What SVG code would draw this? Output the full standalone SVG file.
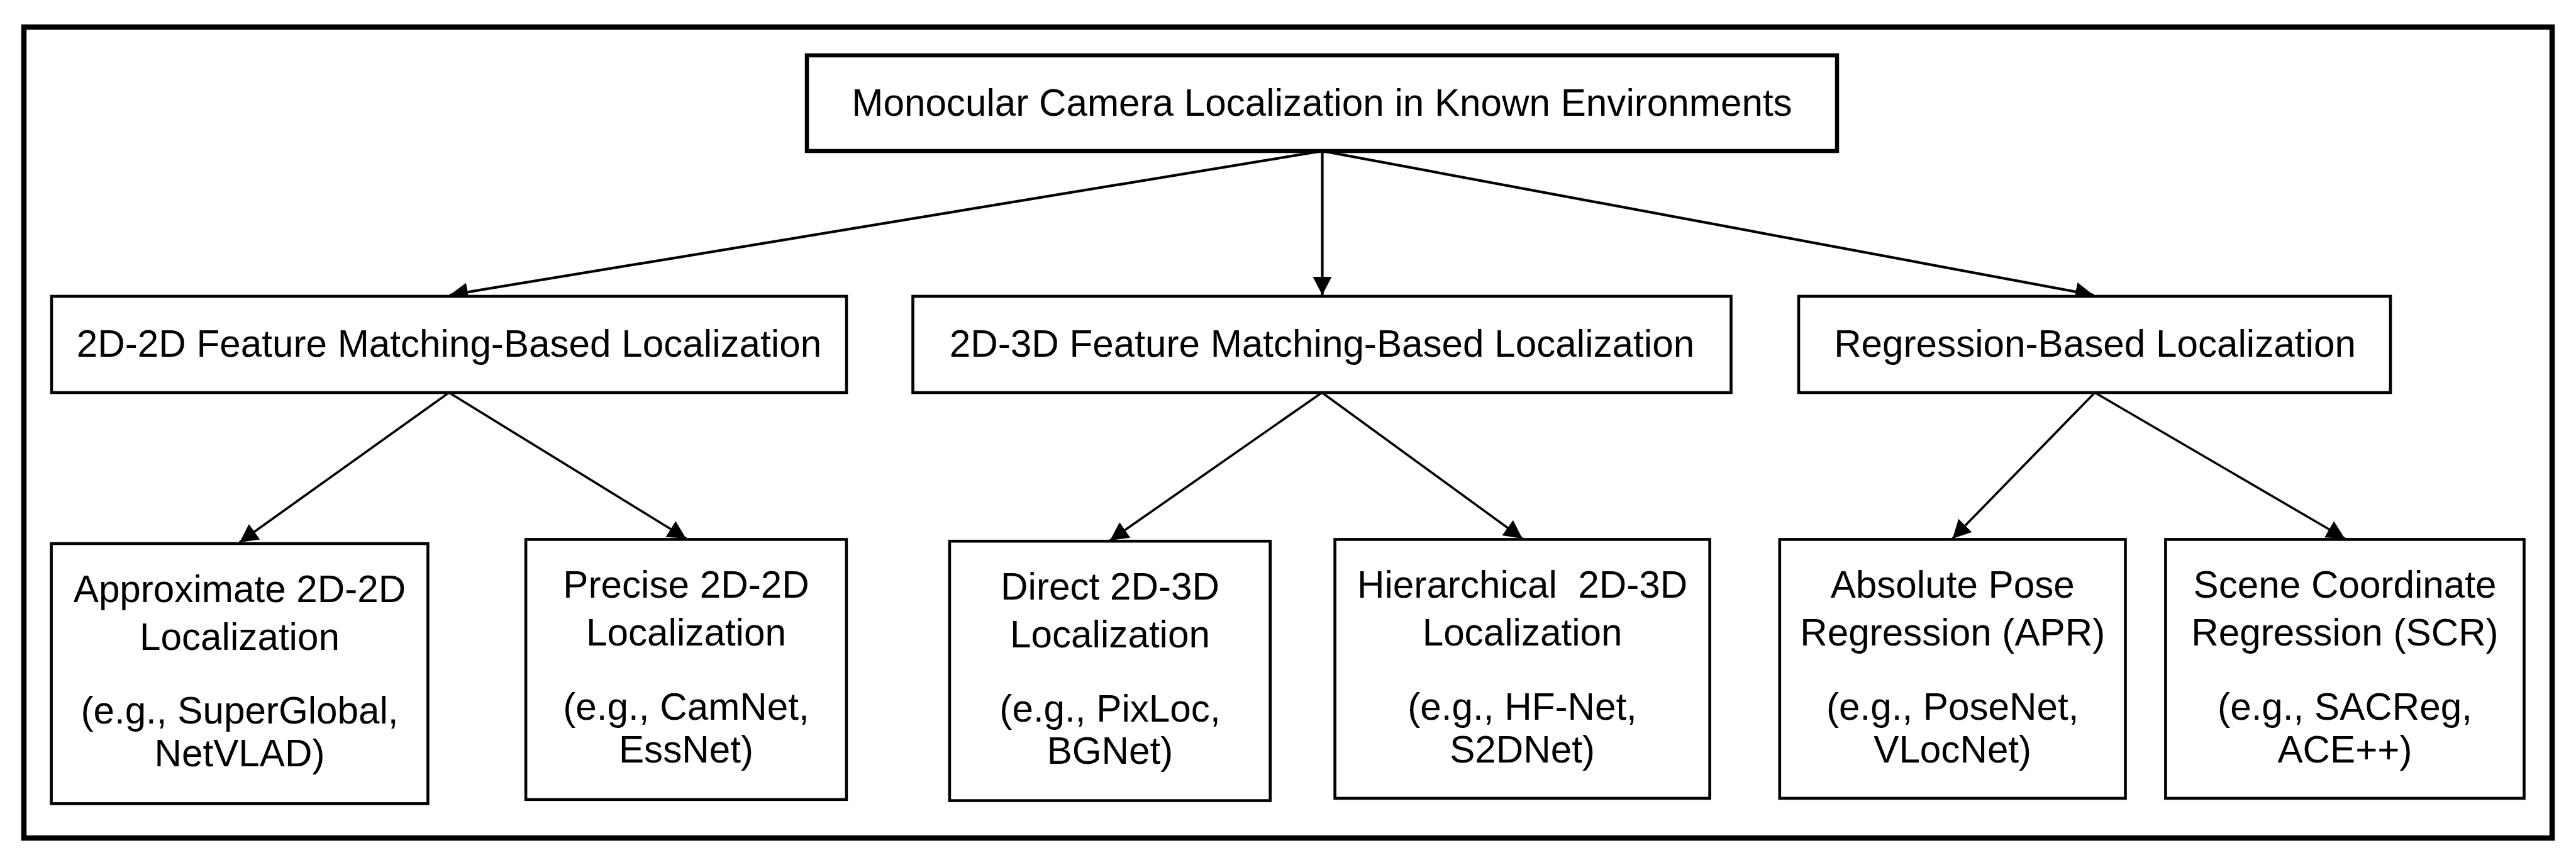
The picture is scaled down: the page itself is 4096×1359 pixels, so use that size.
<svg xmlns="http://www.w3.org/2000/svg" width="4096" height="1359" viewBox="0 0 4096 1359">
<style>
.frame{fill:none;stroke:#000;stroke-width:8.5}
.box{fill:#fff;stroke:#000;stroke-width:4.6}
.root{fill:#fff;stroke:#000;stroke-width:6.5}
text{font-family:"Liberation Sans",Arial,sans-serif;font-size:60.2px;fill:#000;text-anchor:middle}
.c1{fill:none;stroke:#000;stroke-width:4.2}
.c2{fill:none;stroke:#000;stroke-width:3.6}
</style>
<defs>
<marker id="ah" markerUnits="userSpaceOnUse" markerWidth="30" markerHeight="31" refX="29" refY="15" orient="auto">
<path d="M0,0 L29,15 L0,30 z" fill="#000"/>
</marker>
</defs>
<rect class="frame" x="38" y="43" width="4020" height="1289"/>
<g id="connectors">
<line class="c1" x1="2102.5" y1="240" x2="715" y2="469" marker-end="url(#ah)"/>
<line class="c1" x1="2102.5" y1="240" x2="2102.5" y2="469" marker-end="url(#ah)"/>
<line class="c1" x1="2102.5" y1="240" x2="3329" y2="469" marker-end="url(#ah)"/>
<line class="c2" x1="714" y1="624" x2="381" y2="862" marker-end="url(#ah)"/>
<line class="c2" x1="714" y1="624" x2="1091" y2="856" marker-end="url(#ah)"/>
<line class="c2" x1="2102" y1="624" x2="1765" y2="859" marker-end="url(#ah)"/>
<line class="c2" x1="2102" y1="624" x2="2420.6" y2="856" marker-end="url(#ah)"/>
<line class="c2" x1="3331" y1="624" x2="3104.7" y2="856" marker-end="url(#ah)"/>
<line class="c2" x1="3331" y1="624" x2="3728.5" y2="856" marker-end="url(#ah)"/>
</g>
<g id="root">
<rect class="root" x="1283" y="88" width="1638" height="152"/>
<text x="2102" y="184">Monocular Camera Localization in Known Environments</text>
</g>
<g id="n2d2d">
<rect class="box" x="82" y="471" width="1264" height="153"/>
<text x="714" y="567">2D-2D Feature Matching-Based Localization</text>
</g>
<g id="n2d3d">
<rect class="box" x="1451.5" y="471" width="1301" height="153"/>
<text x="2102" y="567">2D-3D Feature Matching-Based Localization</text>
</g>
<g id="nreg">
<rect class="box" x="2860" y="471" width="941" height="153"/>
<text x="3331" y="567">Regression-Based Localization</text>
</g>
<g id="napprox">
<rect class="box" x="81.6" y="864" width="598.8" height="413.4"/>
<text x="381" y="956.6">Approximate 2D-2D</text>
<text x="381" y="1032.6">Localization</text>
<text x="381" y="1150.3">(e.g., SuperGlobal,</text>
<text x="381" y="1218">NetVLAD)</text>
</g>
<g id="nprecise">
<rect class="box" x="836.1" y="857.4" width="509.8" height="413.4"/>
<text x="1091" y="950.1">Precise 2D-2D</text>
<text x="1091" y="1026.1">Localization</text>
<text x="1091" y="1143.8">(e.g., CamNet,</text>
<text x="1091" y="1211.5">EssNet)</text>
</g>
<g id="ndirect">
<rect class="box" x="1509.9" y="860.2" width="509.8" height="412.4"/>
<text x="1765" y="952.9">Direct 2D-3D</text>
<text x="1765" y="1028.9">Localization</text>
<text x="1765" y="1146.6">(e.g., PixLoc,</text>
<text x="1765" y="1214.3">BGNet)</text>
</g>
<g id="nhier">
<rect class="box" x="2122.6" y="857.4" width="596" height="411.5"/>
<text x="2420.6" y="950.1" xml:space="preserve">Hierarchical  2D-3D</text>
<text x="2420.6" y="1026.1">Localization</text>
<text x="2420.6" y="1143.8">(e.g., HF-Net,</text>
<text x="2420.6" y="1211.5">S2DNet)</text>
</g>
<g id="nabs">
<rect class="box" x="2829.8" y="857.4" width="549.7" height="411.5"/>
<text x="3104.7" y="950.1">Absolute Pose</text>
<text x="3104.7" y="1026.1">Regression (APR)</text>
<text x="3104.7" y="1143.8">(e.g., PoseNet,</text>
<text x="3104.7" y="1211.5">VLocNet)</text>
</g>
<g id="nscene">
<rect class="box" x="3443.4" y="857.4" width="570.1" height="411.5"/>
<text x="3728.5" y="950.1">Scene Coordinate</text>
<text x="3728.5" y="1026.1">Regression (SCR)</text>
<text x="3728.5" y="1143.8">(e.g., SACReg,</text>
<text x="3728.5" y="1211.5">ACE++)</text>
</g>
</svg>
